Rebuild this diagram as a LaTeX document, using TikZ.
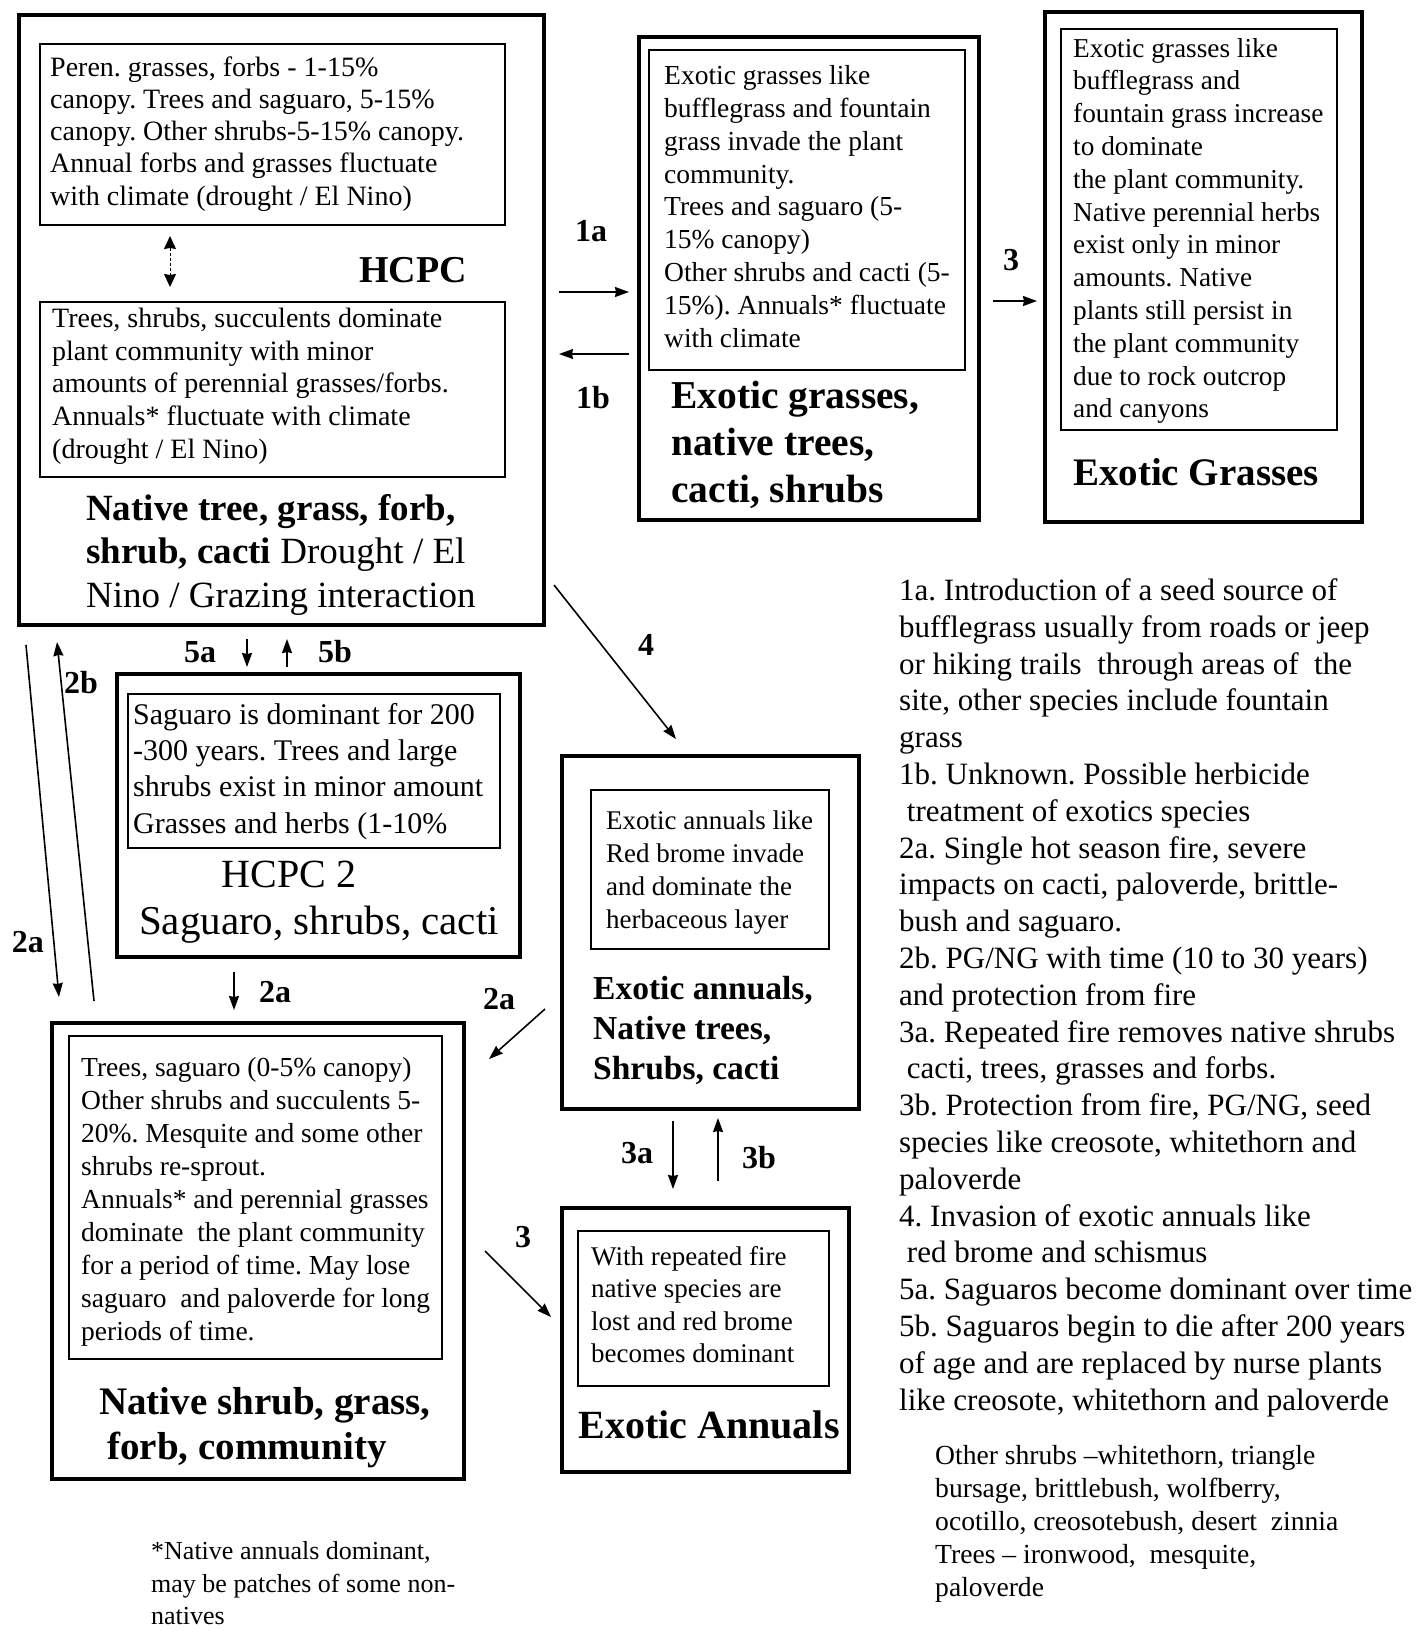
\documentclass[tikz,border=0pt]{standalone}
\usepackage{fontspec}
\setmainfont{Liberation Serif}
\usetikzlibrary{arrows.meta,fit}
\newcommand{\fs}[2]{\fontsize{#1}{#2}\selectfont}
\newcommand{\fst}{\rule{0pt}{0.75em}}
\frenchspacing
\begin{document}
\frenchspacing
\begin{tikzpicture}[x=1pt,y=-1pt,
 obox/.style={draw, line width=4.8pt, inner sep=0pt},
 ibox/.style={draw, line width=1.6pt, inner sep=0pt},
 txt/.style={inner sep=0pt, anchor=north west, align=left},
 ttl/.style={inner sep=0pt, anchor=base},
 lbl/.style={inner sep=0pt, font=\fs{32}{36}\bfseries},
 arr/.style={line width=1.6pt, -{Stealth[length=14pt,width=10pt,inset=1pt]}},
 dbl/.style={line width=1pt, densely dashed, {Stealth[length=13pt,width=12pt,inset=1pt]}-{Stealth[length=13pt,width=12pt,inset=1pt]}},
]
\path[use as bounding box, fill=white] (0,0) rectangle (1422,1631);

% ---------- boxes ----------
\node[obox, fit={(19,15) (544,625)}] (hcpc) {};
\node[ibox, fit={(40,44) (505,225)}] (hcpcA) {};
\node[ibox, fit={(40,302) (505,477)}] (hcpcB) {};
\node[obox, fit={(639,37) (979,520)}] (egn) {};
\node[ibox, fit={(649,50) (965,370)}] (egnI) {};
\node[obox, fit={(1045,12) (1362,522)}] (eg) {};
\node[ibox, fit={(1061,29) (1337,430)}] (egI) {};
\node[obox, fit={(117,674) (520,957)}] (hc2) {};
\node[ibox, fit={(128,694) (500,848)}] (hc2I) {};
\node[obox, fit={(52,1023) (464,1479)}] (ns) {};
\node[ibox, fit={(69,1036) (442,1359)}] (nsI) {};
\node[obox, fit={(562,756) (859,1109)}] (ea1) {};
\node[ibox, fit={(591,790) (829,949)}] (ea1I) {};
\node[obox, fit={(562,1208) (849,1472)}] (ea2) {};
\node[ibox, fit={(578,1231) (829,1386)}] (ea2I) {};

% ---------- texts ----------
\node[txt, font=\fs{28}{32.3}] (tA) at (50,54.8) {\fst Peren. grasses, forbs - 1-15\%\\canopy. Trees and saguaro, 5-15\%\\canopy. Other shrubs-5-15\% canopy.\\Annual forbs and grasses fluctuate\\with climate (drought / El Nino)};
\node[txt, font=\fs{28}{32.8}] (tB) at (52,306) {\fst Trees, shrubs, succulents dominate\\plant community with minor\\amounts of perennial grasses/forbs.\\Annuals* fluctuate with climate\\(drought / El Nino)};
\node[ttl, font=\fs{38}{40}\bfseries] (thcpc) at (413,282) {HCPC};
\node[txt, font=\fs{37}{43.5}] (tC) at (86,492.5) {\fst\textbf{Native tree, grass, forb,}\\\textbf{shrub, cacti} Drought / El\\Nino / Grazing interaction};

\node[txt, font=\fs{27.5}{32.9}] (tD) at (664,63.5) {\fst Exotic grasses like\\bufflegrass and fountain\\grass invade the plant\\community.\\Trees and saguaro (5-\\15\% canopy)\\Other shrubs and cacti (5-\\15\%). Annuals* fluctuate\\with climate};
\node[txt, font=\fs{39.5}{47}\bfseries] (tE) at (671,378.4) {\fst Exotic grasses,\\native trees,\\cacti, shrubs};

\node[txt, font=\fs{27.3}{32.8}] (tF) at (1073,36.5) {\fst Exotic grasses like\\bufflegrass and\\fountain grass increase\\to dominate\\the plant community.\\Native perennial herbs\\exist only in minor\\amounts. Native\\plants still persist in\\the plant community\\due to rock outcrop\\and canyons};
\node[ttl, font=\fs{39}{42}\bfseries] (tG) at (1196,485) {Exotic Grasses};

\node[txt, font=\fs{30}{36.4}] (tH) at (133,701.4) {\fst Saguaro is dominant for 200\\-300 years. Trees and large\\shrubs exist in minor amount\\Grasses and herbs (1-10\%};
\node[ttl, font=\fs{40}{42}] (tI) at (289,887) {HCPC 2};
\node[ttl, font=\fs{41}{44}] (tJ) at (319,934.5) {Saguaro, shrubs, cacti};

\node[txt, font=\fs{27}{33}] (tK) at (606,808.7) {\fst Exotic annuals like\\Red brome invade\\and dominate the\\herbaceous layer};
\node[txt, font=\fs{33.5}{40}\bfseries] (tL) at (593,974) {\fst Exotic annuals,\\Native trees,\\Shrubs, cacti};

\node[txt, font=\fs{27}{32.6}] (tM) at (591,1244.7) {\fst With repeated fire\\native species are\\lost and red brome\\becomes dominant};
\node[ttl, font=\fs{40}{42}\bfseries] (tN) at (709,1438) {Exotic Annuals};

\node[txt, font=\fs{27.5}{33}] (tO) at (81,1055.5) {\fst Trees, saguaro (0-5\% canopy)\\Other shrubs and succulents 5-\\20\%. Mesquite and some other\\shrubs re-sprout.\\Annuals* and perennial grasses\\dominate\ \ the plant community\\for a period of time. May lose\\saguaro\ \ and paloverde for long\\periods of time.};
\node[inner sep=0pt, anchor=base west, font=\fs{39}{42}\bfseries] (tP) at (99,1414) {Native shrub, grass,};
\node[inner sep=0pt, anchor=base west, font=\fs{39}{42}\bfseries] (tQ) at (107,1459) {forb, community};

\node[txt, font=\fs{31}{36.8}] (leg) at (899,577) {\fst 1a. Introduction of a seed source of\\bufflegrass usually from roads or jeep\\or hiking trails\ \ through areas of\ \ the\\site, other species include fountain\\grass\\1b. Unknown. Possible herbicide\\\hspace{0.25em}treatment of exotics species\\2a. Single hot season fire, severe\\impacts on cacti, paloverde, brittle-\\bush and saguaro.\\2b. PG/NG with time (10 to 30 years)\\and protection from fire\\3a. Repeated fire removes native shrubs\\\hspace{0.25em}cacti, trees, grasses and forbs.\\3b. Protection from fire, PG/NG, seed\\species like creosote, whitethorn and\\paloverde\\4. Invasion of exotic annuals like\\\hspace{0.25em}red brome and schismus\\5a. Saguaros become dominant over time\\5b. Saguaros begin to die after 200 years\\of age and are replaced by nurse plants\\like creosote, whitethorn and paloverde};

\node[txt, font=\fs{27.6}{33}] (oth) at (935,1443.4) {\fst Other shrubs --whitethorn, triangle\\bursage, brittlebush, wolfberry,\\ocotillo, creosotebush, desert\ \ zinnia\\Trees -- ironwood,\ \ mesquite,\\paloverde};

\node[txt, font=\fs{26}{32.5}] (fn) at (151,1540) {\fst *Native annuals dominant,\\may be patches of some non-\\natives};

% ---------- arrows ----------
\coordinate (d1) at (170,236); \coordinate (d2) at (170,287);
\draw[dbl] (d1) -- (d2);

\coordinate (a1s) at (559,292); \coordinate (a1e) at (629,292);
\draw[arr] (a1s) -- (a1e);
\node[lbl] (l1a) at (591,231) {1a};
\coordinate (b1s) at (629,354); \coordinate (b1e) at (559,354);
\draw[arr] (b1s) -- (b1e);
\node[lbl] (l1b) at (593,398) {1b};

\coordinate (t3s) at (993,301); \coordinate (t3e) at (1037,301);
\draw[arr] (t3s) -- (t3e);
\node[lbl] (l3t) at (1011,260) {3};

\coordinate (f5as) at (247,639); \coordinate (f5ae) at (247,667);
\draw[arr] (f5as) -- (f5ae);
\node[lbl] (l5a) at (200,652) {5a};
\coordinate (f5bs) at (287,667); \coordinate (f5be) at (287,639);
\draw[arr] (f5bs) -- (f5be);
\node[lbl] (l5b) at (335,652) {5b};

\coordinate (l2as) at (26,645); \coordinate (l2ae) at (59,997);
\draw[arr] (l2as) -- (l2ae);
\node[lbl] (l2al) at (28,942) {2a};
\coordinate (l2bs) at (94,1001); \coordinate (l2be) at (57,642);
\draw[arr] (l2bs) -- (l2be);
\node[lbl] (l2bl) at (81,683) {2b};

\coordinate (m2as) at (234,972); \coordinate (m2ae) at (234,1010);
\draw[arr] (m2as) -- (m2ae);
\node[lbl] (m2al) at (275,992) {2a};

\coordinate (f4s) at (554,585); \coordinate (f4e) at (676,739);
\draw[arr] (f4s) -- (f4e);
\node[lbl] (l4) at (646,645) {4};

\coordinate (d2as) at (545,1009); \coordinate (d2ae) at (489,1059);
\draw[arr] (d2as) -- (d2ae);
\node[lbl] (d2al) at (499,999) {2a};

\coordinate (f3as) at (673,1121); \coordinate (f3ae) at (673,1189);
\draw[arr] (f3as) -- (f3ae);
\node[lbl] (l3a) at (637,1153) {3a};
\coordinate (f3bs) at (718,1181); \coordinate (f3be) at (718,1118);
\draw[arr] (f3bs) -- (f3be);
\node[lbl] (l3b) at (759,1158) {3b};

\coordinate (b3s) at (485,1251); \coordinate (b3e) at (551,1317);
\draw[arr] (b3s) -- (b3e);
\node[lbl] (l3bt) at (523,1237) {3};
\end{tikzpicture}
\end{document}
